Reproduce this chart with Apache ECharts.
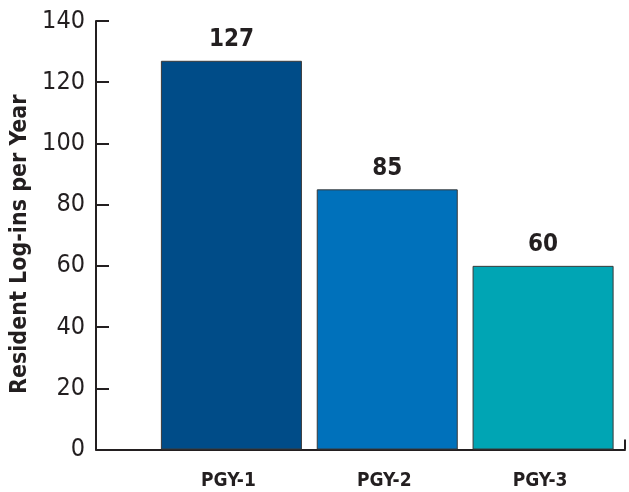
<!DOCTYPE html>
<html>
<head>
<meta charset="utf-8">
<script src="https://cdn.jsdelivr.net/npm/echarts@6/dist/echarts.min.js"></script>
<style>
  html, body { margin: 0; padding: 0; background: #fff; }
  #chart { width: 629px; height: 492px; }
</style>
</head>
<body>
<div id="chart"></div>
<script>
const categories = ['PGY-1', 'PGY-2', 'PGY-3'];
const logins = [127, 85, 60];
const barColors = ['#004c88', '#0071bb', '#00a5b4'];
const yTicks = [0, 20, 40, 60, 80, 100, 120, 140];

const font = '"Liberation Sans Narrow", "DejaVu Sans Condensed", "Liberation Sans", sans-serif';
const ink = '#231f20';

const chart = echarts.init(document.getElementById('chart'));

const options = {
  animation: false,
  textStyle: { fontFamily: font, color: ink },
  grid: [
    // frame: y axis + long x axis line
    { left: 96, right: 4, top: 21, bottom: 42.5 },
    // bars
    { left: 153.5, right: 8, top: 21, bottom: 42.5 },
  ],
  xAxis: [
    {
      gridIndex: 0,
      type: 'value',
      min: 0,
      max: 1,
      interval: 1,
      axisLine: { show: true, lineStyle: { color: ink, width: 2 } },
      axisTick: { show: true, inside: true, length: 10, lineStyle: { color: ink, width: 2 } },
      axisLabel: { show: false },
      splitLine: { show: false },
    },
    {
      gridIndex: 1,
      type: 'category',
      data: categories,
      axisLine: { show: false },
      axisTick: { show: false },
      axisLabel: {
        margin: 22,
        fontSize: 19,
        fontWeight: 'bold',
        color: ink,
        fontFamily: font,
        padding: [0, 6, 0, 0],
      },
    },
  ],
  yAxis: [
    {
      gridIndex: 0,
      type: 'value',
      min: yTicks[0],
      max: yTicks[yTicks.length - 1],
      interval: 20,
      name: 'Resident Log-ins per Year',
      nameLocation: 'middle',
      nameGap: 63,
      nameTextStyle: {
        fontSize: 23,
        fontWeight: 'bold',
        color: ink,
        fontFamily: font,
        padding: [0, 18, 0, 0],
      },
      axisLine: { show: true, lineStyle: { color: ink, width: 2 } },
      axisTick: { show: true, inside: true, length: 13, lineStyle: { color: ink, width: 2 } },
      axisLabel: { margin: 11, fontSize: 25, color: ink, fontFamily: font },
      splitLine: { show: false },
    },
    {
      gridIndex: 1,
      type: 'value',
      min: yTicks[0],
      max: yTicks[yTicks.length - 1],
      interval: 20,
      show: false,
      splitLine: { show: false },
    },
  ],
  series: [
    {
      type: 'bar',
      xAxisIndex: 1,
      yAxisIndex: 1,
      barCategoryGap: '9.5%',
      data: logins.map((v, i) => ({
        value: v,
        itemStyle: { color: barColors[i] },
      })),
      itemStyle: { borderColor: '#3a3a3a', borderWidth: 1 },
      label: {
        show: true,
        position: 'top',
        distance: 9,
        fontSize: 24,
        fontWeight: 'bold',
        color: ink,
        fontFamily: font,
      },
    },
  ],
};

chart.setOption(options);
</script>
</body>
</html>
